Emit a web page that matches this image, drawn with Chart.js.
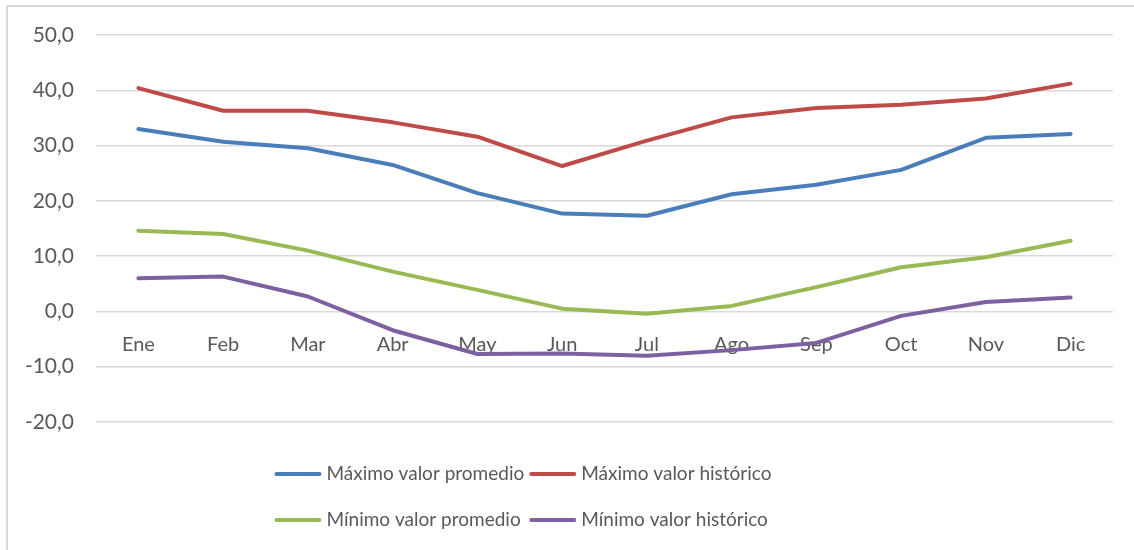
<!DOCTYPE html>
<html>
<head>
<meta charset="utf-8">
<script src="https://cdn.jsdelivr.net/npm/chart.js@4"></script>
<style>
  html, body { margin: 0; padding: 0; background: #ffffff; }
  #wrap { width: 1134px; height: 550px; }
</style>
</head>
<body>
<div id="wrap"><canvas id="c" width="1134" height="550"></canvas></div>
<script>
const categories = ['Ene','Feb','Mar','Abr','May','Jun','Jul','Ago','Sep','Oct','Nov','Dic'];
const maxPromedio  = [33.0, 30.7, 29.5, 26.5, 21.4, 17.7, 17.3, 21.2, 22.9, 25.6, 31.4, 32.1];
const maxHistorico = [40.4, 36.3, 36.3, 34.2, 31.6, 26.3, 30.9, 35.1, 36.8, 37.4, 38.5, 41.2];
const minPromedio  = [14.6, 14.0, 11.0, 7.2, 3.9, 0.5, -0.4, 1.0, 4.4, 8.0, 9.8, 12.8];
const minHistorico = [6.0, 6.3, 2.7, -3.4, -7.7, -7.6, -8.0, -7.0, -5.7, -0.8, 1.7, 2.5];
const seriesNames = ['Máximo valor promedio','Máximo valor histórico','Mínimo valor promedio','Mínimo valor histórico'];
const yMin = -20, yMax = 50, yStep = 10;

const FONT = 'Lato, "Noto Sans", sans-serif';
const TEXT = '#595959';

const bgBorder = {
  id: 'bgBorder',
  beforeDraw(chart) {
    const ctx = chart.ctx;
    ctx.save();
    ctx.fillStyle = '#ffffff';
    ctx.fillRect(0, 0, chart.width, chart.height);
    ctx.strokeStyle = '#D9D9D9';
    ctx.lineWidth = 2;
    ctx.beginPath();
    ctx.moveTo(7, chart.height);
    ctx.lineTo(7, 6);
    ctx.lineTo(chart.width, 6);
    ctx.stroke();
    ctx.restore();
  }
};

const customLegend = {
  id: 'customLegend',
  afterDraw(chart) {
    const ctx = chart.ctx;
    const ds = chart.data.datasets;
    ctx.save();
    ctx.font = '19px ' + FONT;
    ctx.textBaseline = 'middle';
    ctx.textAlign = 'left';
    const lineW = 47, gapT = 5, gapItem = 5;
    const rows = [[0, 1], [2, 3]];
    const rowY = [474, 520];
    const col1W = Math.max(ctx.measureText(ds[0].label).width, ctx.measureText(ds[2].label).width);
    const col2W = Math.max(ctx.measureText(ds[1].label).width, ctx.measureText(ds[3].label).width);
    const total = lineW + gapT + col1W + gapItem + lineW + gapT + col2W;
    const x0 = 523 - total / 2;
    const colX = [x0, x0 + lineW + gapT + col1W + gapItem];
    rows.forEach((r, ri) => {
      r.forEach((di, ci) => {
        const d = ds[di];
        const x = colX[ci], y = rowY[ri];
        ctx.strokeStyle = d.borderColor;
        ctx.lineWidth = 4;
        ctx.lineCap = 'round';
        ctx.beginPath();
        ctx.moveTo(x + 2, y);
        ctx.lineTo(x + lineW - 2, y);
        ctx.stroke();
        ctx.fillStyle = TEXT;
        ctx.fillText(d.label, x + lineW + gapT, y);
      });
    });
    ctx.restore();
  }
};

function mk(label, data, color) {
  return {
    label, data,
    borderColor: color, backgroundColor: color,
    borderWidth: 4, pointRadius: 0, pointHoverRadius: 0,
    tension: 0, fill: false,
    borderCapStyle: 'round', borderJoinStyle: 'round'
  };
}

new Chart(document.getElementById('c'), {
  type: 'line',
  data: {
    labels: categories,
    datasets: [
      mk(seriesNames[0], maxPromedio, '#4A7EBB'),
      mk(seriesNames[1], maxHistorico, '#BE4B48'),
      mk(seriesNames[2], minPromedio, '#98B954'),
      mk(seriesNames[3], minHistorico, '#7D60A0')
    ]
  },
  options: {
    responsive: false,
    animation: false,
    events: [],
    layout: { padding: { left: 0, right: 21, top: 35, bottom: 128 } },
    plugins: { legend: { display: false }, tooltip: { enabled: false } },
    scales: {
      x: {
        position: { y: 0 },
        offset: true,
        grid: { display: false, drawTicks: false },
        border: { display: false },
        ticks: { color: TEXT, font: { family: FONT, size: 20 }, padding: 21, maxRotation: 0, autoSkip: false }
      },
      y: {
        min: yMin, max: yMax,
        afterFit(scale) { scale.width = 96; },
        grid: { color: '#D9D9D9', lineWidth: 1.5, drawTicks: false },
        border: { display: false },
        ticks: {
          stepSize: yStep, color: TEXT, padding: 22,
          font: { family: FONT, size: 21 },
          callback: v => v.toFixed(1).replace('.', ',')
        }
      }
    }
  },
  plugins: [bgBorder, customLegend]
});
</script>
</body>
</html>
